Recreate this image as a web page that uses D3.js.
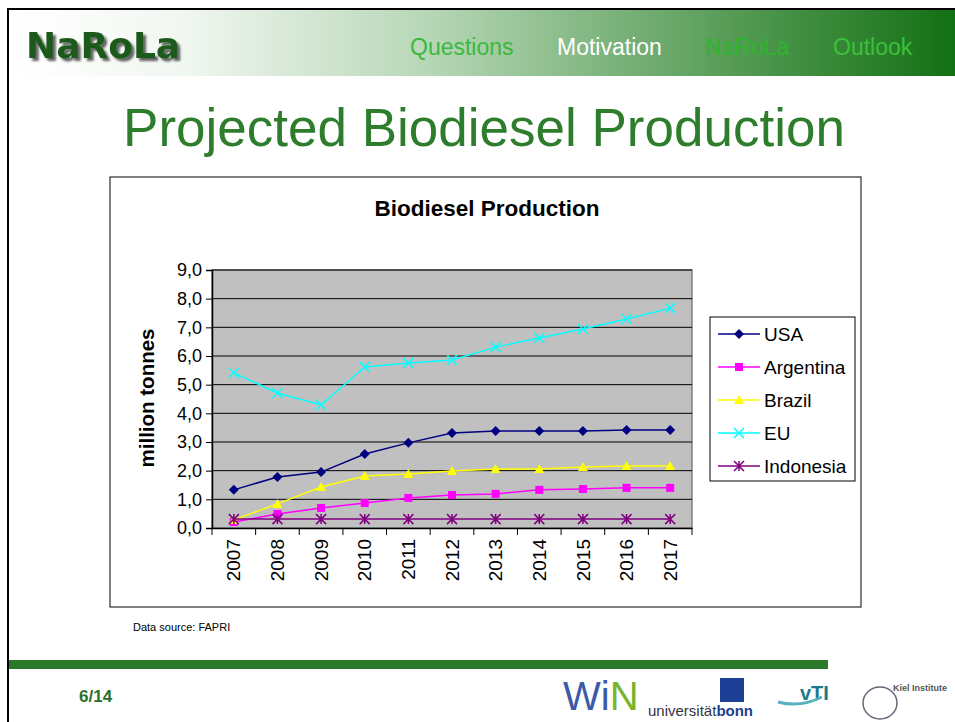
<!DOCTYPE html>
<html lang="en">
<head>
<meta charset="UTF-8">
<title>Projected Biodiesel Production</title>
<script src="https://d3js.org/d3.v7.min.js"></script>
<style>
  body { margin: 0; background: #fff; }
  svg { display: block; font-family: Arial, "Liberation Sans", sans-serif; }
</style>
</head>
<body>
<div id="chart-container"></div>
<script>
// chart data
const years = ['2007','2008','2009','2010','2011','2012','2013','2014','2015','2016','2017'];
const usa       = [1.33, 1.78, 1.95, 2.58, 2.97, 3.31, 3.38, 3.38, 3.38, 3.42, 3.42];
const argentina = [0.21, 0.49, 0.70, 0.87, 1.05, 1.15, 1.19, 1.33, 1.36, 1.40, 1.40];
const brazil    = [0.28, 0.84, 1.43, 1.81, 1.88, 1.99, 2.06, 2.06, 2.13, 2.16, 2.16];
const eu        = [5.41, 4.71, 4.29, 5.62, 5.76, 5.86, 6.31, 6.63, 6.94, 7.29, 7.67];
const indonesia = [0.31, 0.31, 0.31, 0.31, 0.31, 0.31, 0.31, 0.31, 0.31, 0.31, 0.31];
const yTicks = [0, 1, 2, 3, 4, 5, 6, 7, 8, 9];
const navItems = ['Questions', 'Motivation', 'NaRoLa', 'Outlook'];

const series = [
  { name: 'USA', values: usa, color: '#000080', marker: 'diamond' },
  { name: 'Argentina', values: argentina, color: '#ff00ff', marker: 'square' },
  { name: 'Brazil', values: brazil, color: '#ffff00', marker: 'triangle' },
  { name: 'EU', values: eu, color: '#00ffff', marker: 'cross' },
  { name: 'Indonesia', values: indonesia, color: '#800080', marker: 'star' }
];

const W = 955, H = 722;
const svg = d3.select('#chart-container').append('svg')
  .attr('width', W).attr('height', H);

// ---- slide frame and header ----
const defs = svg.append('defs');
const grad = defs.append('linearGradient')
  .attr('id', 'hdr').attr('x1', '0%').attr('x2', '100%');
grad.append('stop').attr('offset', '0%').attr('stop-color', '#ffffff');
grad.append('stop').attr('offset', '18%').attr('stop-color', '#f2f7f2');
grad.append('stop').attr('offset', '45%').attr('stop-color', '#b5d6b5');
grad.append('stop').attr('offset', '75%').attr('stop-color', '#5a9e5a');
grad.append('stop').attr('offset', '100%').attr('stop-color', '#137013');

const shadow = defs.append('filter').attr('id', 'shadow')
  .attr('x', '-10%').attr('y', '-20%').attr('width', '130%').attr('height', '150%');
shadow.append('feDropShadow').attr('dx', 3).attr('dy', 3).attr('stdDeviation', 1.2)
  .attr('flood-color', '#000').attr('flood-opacity', 0.6);

svg.append('rect').attr('x', 9).attr('y', 10).attr('width', W - 9).attr('height', 66)
  .attr('fill', 'url(#hdr)');
svg.append('line').attr('x1', 8).attr('x2', W).attr('y1', 9).attr('y2', 9)
  .attr('stroke', '#000').attr('stroke-width', 2);
svg.append('line').attr('x1', 8).attr('x2', 8).attr('y1', 8).attr('y2', H)
  .attr('stroke', '#000').attr('stroke-width', 2);

// logo
svg.append('text').attr('x', 26).attr('y', 58).text('NaRoLa')
  .attr('font-size', 36).attr('font-weight', 'bold').attr('fill', '#1f5a1f')
  .attr('font-family', '"DejaVu Sans", sans-serif')
  .attr('filter', 'url(#shadow)');

// navigation
const navX = [410, 557, 705, 833];
const navColor = ['#3cb83c', '#ffffff', '#2db52d', '#3cc03c'];
svg.selectAll('.nav').data(navItems).enter().append('text')
  .attr('class', 'nav')
  .attr('x', (d, i) => navX[i]).attr('y', 55)
  .attr('font-size', 23)
  .attr('font-family', '"Liberation Sans Narrow", "Arial Narrow", sans-serif')
  .attr('fill', (d, i) => navColor[i])
  .text(d => d);

// slide title
svg.append('text').attr('x', 484).attr('y', 146).attr('text-anchor', 'middle')
  .attr('font-size', 53).attr('fill', '#2d7d2d').text('Projected Biodiesel Production');

// ---- chart ----
svg.append('rect').attr('x', 110).attr('y', 177).attr('width', 751).attr('height', 430)
  .attr('fill', '#fff').attr('stroke', '#000').attr('stroke-width', 1);

svg.append('text').attr('x', 487).attr('y', 216).attr('text-anchor', 'middle')
  .attr('font-size', 22.5).attr('font-weight', 'bold').text('Biodiesel Production');

const plot = { left: 212, right: 692, top: 270, bottom: 528 };

const x = d3.scaleBand().domain(years).range([plot.left, plot.right]);
const y = d3.scaleLinear().domain([0, 9]).range([plot.bottom, plot.top]);

svg.append('rect').attr('x', plot.left).attr('y', plot.top)
  .attr('width', plot.right - plot.left).attr('height', plot.bottom - plot.top)
  .attr('fill', '#c0c0c0').attr('stroke', '#808080').attr('stroke-width', 1.5);

// gridlines
svg.append('g').selectAll('line').data(yTicks.slice(1)).enter().append('line')
  .attr('x1', plot.left).attr('x2', plot.right)
  .attr('y1', d => y(d)).attr('y2', d => y(d))
  .attr('stroke', '#000').attr('stroke-width', 1);

// y axis
const yAxis = svg.append('g').attr('transform', `translate(${plot.left},0)`)
  .call(d3.axisLeft(y).tickValues(yTicks).tickSize(6).tickPadding(4)
    .tickFormat(d => d3.format('.1f')(d).replace('.', ',')));
yAxis.selectAll('text').attr('font-size', 18).attr('font-family', 'Arial, "Liberation Sans", sans-serif').attr('fill', '#000');
yAxis.select('.domain').attr('stroke', '#000').attr('stroke-width', 1.5);

// x axis
const xAxis = svg.append('g').attr('transform', `translate(0,${plot.bottom})`)
  .call(d3.axisBottom(x).tickSize(0).tickPadding(0));
xAxis.select('.domain').attr('stroke', '#000').attr('stroke-width', 1.5);
xAxis.selectAll('text')
  .attr('font-size', 19).attr('font-family', 'Arial, "Liberation Sans", sans-serif').attr('fill', '#000')
  .attr('transform', 'rotate(-90)')
  .attr('text-anchor', 'end').attr('dy', '0.35em').attr('x', -11).attr('y', 0);
// tick marks between categories
svg.append('g').selectAll('line').data(years.concat(['end'])).enter().append('line')
  .attr('x1', (d, i) => i < years.length ? x(d) : plot.right)
  .attr('x2', (d, i) => i < years.length ? x(d) : plot.right)
  .attr('y1', plot.bottom).attr('y2', plot.bottom + 7)
  .attr('stroke', '#000').attr('stroke-width', 1);

// y axis label
svg.append('text').attr('transform', 'translate(154,398) rotate(-90)')
  .attr('text-anchor', 'middle').attr('font-size', 20.5).attr('font-weight', 'bold')
  .text('million tonnes');

// markers
function drawMarker(g, type, color, size) {
  const s = size;
  if (type === 'diamond') {
    g.append('path').attr('d', `M0,${-s}L${s},0L0,${s}L${-s},0Z`).attr('fill', color);
  } else if (type === 'square') {
    g.append('rect').attr('x', -s * 0.8).attr('y', -s * 0.8).attr('width', s * 1.6).attr('height', s * 1.6).attr('fill', color);
  } else if (type === 'triangle') {
    g.append('path').attr('d', `M0,${-s}L${s},${s * 0.8}L${-s},${s * 0.8}Z`).attr('fill', color);
  } else if (type === 'cross') {
    g.append('path').attr('d', `M${-s},${-s}L${s},${s}M${-s},${s}L${s},${-s}`)
      .attr('stroke', color).attr('stroke-width', 1.5);
  } else if (type === 'star') {
    g.append('path').attr('d', `M${-s},${-s}L${s},${s}M${-s},${s}L${s},${-s}M0,${-s}L0,${s}`)
      .attr('stroke', color).attr('stroke-width', 1.5);
  }
}

const line = d3.line().x((d, i) => x(years[i]) + x.bandwidth() / 2).y(d => y(d));

series.forEach(s => {
  const g = svg.append('g');
  g.append('path').datum(s.values).attr('d', line)
    .attr('fill', 'none').attr('stroke', s.color).attr('stroke-width', 1.5);
  s.values.forEach((v, i) => {
    const m = g.append('g').attr('transform', `translate(${x(years[i]) + x.bandwidth() / 2},${y(v)})`);
    drawMarker(m, s.marker, s.color, 5);
  });
});

// legend
svg.append('rect').attr('x', 710).attr('y', 317).attr('width', 145).attr('height', 164)
  .attr('fill', '#fff').attr('stroke', '#000').attr('stroke-width', 1);
series.forEach((s, i) => {
  const ly = 334 + i * 33;
  svg.append('line').attr('x1', 718).attr('x2', 760).attr('y1', ly).attr('y2', ly)
    .attr('stroke', s.color).attr('stroke-width', 1.5);
  drawMarker(svg.append('g').attr('transform', `translate(739,${ly})`), s.marker, s.color, 5);
  svg.append('text').attr('x', 764).attr('y', ly).attr('dy', '0.35em')
    .attr('font-size', 19).text(s.name);
});

// source note
svg.append('text').attr('x', 133).attr('y', 631).attr('font-size', 11).text('Data source: FAPRI');

// ---- footer ----
svg.append('rect').attr('x', 9).attr('y', 660).attr('width', 819).attr('height', 9).attr('fill', '#2b7a2b');
svg.append('text').attr('x', 79).attr('y', 702).attr('font-size', 17).attr('font-weight', 'bold')
  .attr('fill', '#2b6e2b').text('6/14');

// partner logos (text stand-ins)
const win = svg.append('text').attr('x', 563).attr('y', 710).attr('font-size', 40)
  .attr('font-family', '"Liberation Sans Narrow", sans-serif');
win.append('tspan').attr('fill', '#3b5aa8').text('Wi');
win.append('tspan').attr('fill', '#7ab32e').text('N');

const bonn = svg.append('text').attr('x', 648).attr('y', 716).attr('font-size', 15)
  .attr('font-family', '"Liberation Sans Narrow", sans-serif');
bonn.append('tspan').attr('fill', '#334').text('universität');
bonn.append('tspan').attr('fill', '#1c3f95').attr('font-weight', 'bold').text('bonn');
svg.append('rect').attr('x', 720).attr('y', 678).attr('width', 24).attr('height', 24).attr('fill', '#1c3f95');

svg.append('text').attr('x', 800).attr('y', 700).attr('font-size', 20).attr('font-weight', 'bold')
  .attr('fill', '#1a7a8a').text('vTI');
svg.append('path').attr('d', 'M778,702 Q800,708 822,697').attr('fill', 'none').attr('stroke', '#5ab0c0').attr('stroke-width', 3);
svg.append('ellipse').attr('cx', 880).attr('cy', 703).attr('rx', 17).attr('ry', 16)
  .attr('fill', 'none').attr('stroke', '#667').attr('stroke-width', 1.5);
svg.append('text').attr('x', 893).attr('y', 691).attr('font-size', 9).attr('font-weight', 'bold')
  .attr('fill', '#555').text('Kiel Institute');
</script>
</body>
</html>
